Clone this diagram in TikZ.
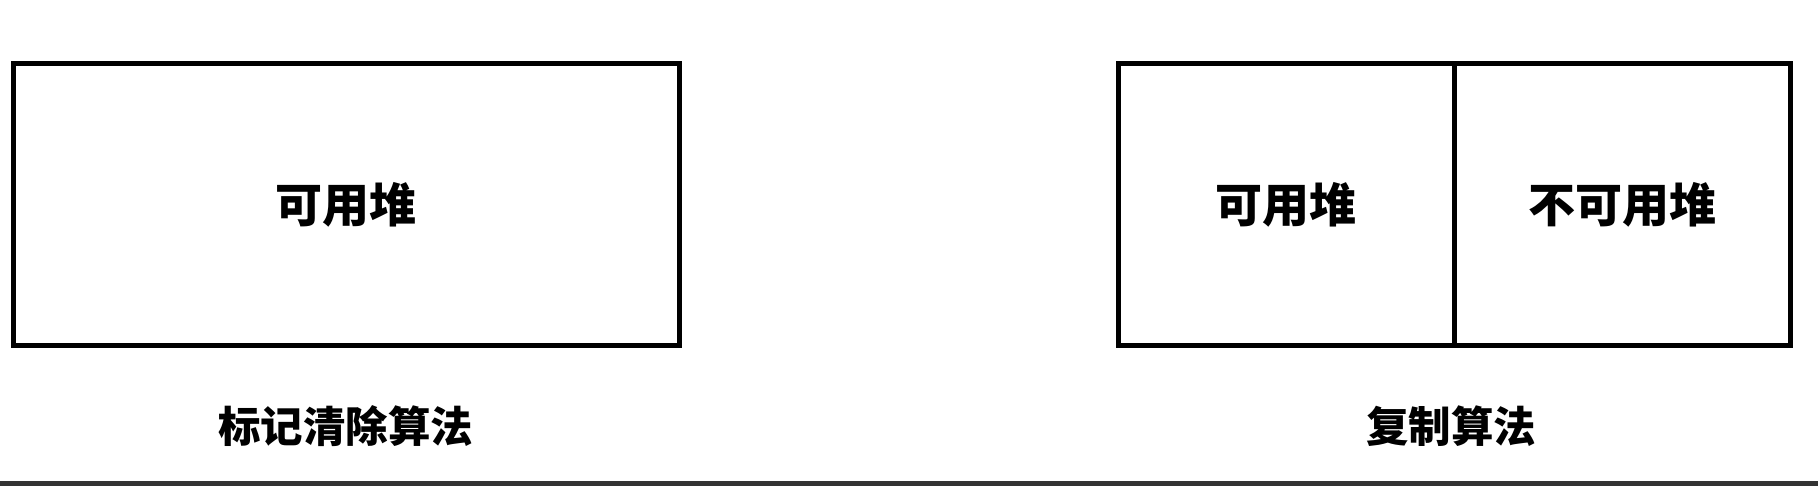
\documentclass[tikz,border=0pt]{standalone}
\usepackage{fontspec}
\newfontfamily\cjk{Noto Sans CJK SC}
\usetikzlibrary{positioning}
\tikzset{
  heapbox/.style={draw=black, line width=5pt, rectangle, inner sep=0pt, minimum height=281pt,
    font=\cjk\bfseries\fontsize{47}{50}\selectfont},
  caption/.style={inner sep=0pt, font=\cjk\bfseries\fontsize{42.5}{46}\selectfont}
}
\begin{document}
\begin{tikzpicture}[x=1pt,y=-1pt]
\useasboundingbox (0,0) rectangle (1818,486);
\fill[white] (0,0) rectangle (1818,486);
% left: mark-sweep
\node[heapbox, minimum width=665.5pt] (ms) at (346.25,204.5) {可用堆};
\node[caption] (mscap) at (345.5,426.5) {标记清除算法};
% right: copying
\node[heapbox, minimum width=336pt] (cpa) at (1286,204.5) {可用堆};
\node[heapbox, minimum width=336pt] (cpb) at (1622,204.5) {不可用堆};
\node[caption] (cpcap) at (1451,426.5) {复制算法};
% bottom strip
\fill[fill={rgb,255:red,51;green,51;blue,51}] (0,481) rectangle (1818,486);
\end{tikzpicture}
\end{document}
